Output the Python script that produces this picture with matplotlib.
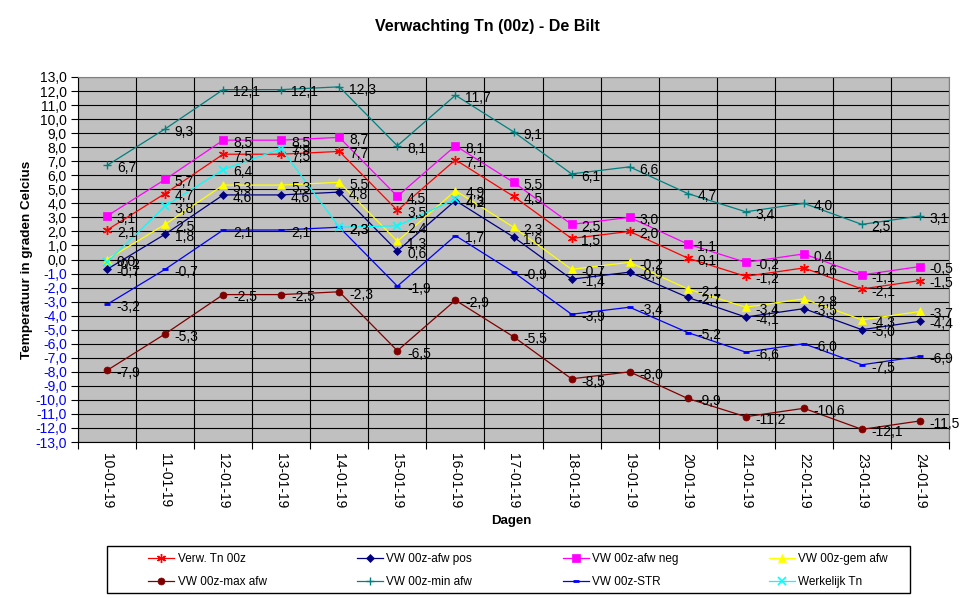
import matplotlib
matplotlib.use("Agg")
import matplotlib.pyplot as plt
from matplotlib.patches import Rectangle
from matplotlib.ticker import FixedLocator, NullFormatter, FixedFormatter

plt.rcParams["font.family"] = ["Liberation Sans", "DejaVu Sans"]

# data
dagen = ["10-01-19", "11-01-19", "12-01-19", "13-01-19", "14-01-19", "15-01-19", "16-01-19",
         "17-01-19", "18-01-19", "19-01-19", "20-01-19", "21-01-19", "22-01-19", "23-01-19", "24-01-19"]
verw_tn = [2.1, 4.7, 7.5, 7.5, 7.7, 3.5, 7.1, 4.5, 1.5, 2.0, 0.1, -1.2, -0.6, -2.1, -1.5]
afw_pos = [-0.7, 1.8, 4.6, 4.6, 4.8, 0.6, 4.2, 1.6, -1.4, -0.9, -2.7, -4.1, -3.5, -5.0, -4.4]
afw_neg = [3.1, 5.7, 8.5, 8.5, 8.7, 4.5, 8.1, 5.5, 2.5, 3.0, 1.1, -0.2, 0.4, -1.1, -0.5]
gem_afw = [0.0, 2.5, 5.3, 5.3, 5.5, 1.3, 4.9, 2.3, -0.7, -0.2, -2.1, -3.4, -2.8, -4.3, -3.7]
max_afw = [-7.9, -5.3, -2.5, -2.5, -2.3, -6.5, -2.9, -5.5, -8.5, -8.0, -9.9, -11.2, -10.6, -12.1, -11.5]
min_afw = [6.7, 9.3, 12.1, 12.1, 12.3, 8.1, 11.7, 9.1, 6.1, 6.6, 4.7, 3.4, 4.0, 2.5, 3.1]
str_vw = [-3.2, -0.7, 2.1, 2.1, 2.3, -1.9, 1.7, -0.9, -3.9, -3.4, -5.2, -6.6, -6.0, -7.5, -6.9]
werkelijk = [-0.2, 3.8, 6.4, 7.9, 2.3, 2.4, 4.3]

# naam, waarden, kleur, marker, markersize, markeredgewidth
series = [
    ("Verw. Tn 00z", verw_tn, "#FF0000", (6, 2, 0), 6.5, 1.0),
    ("VW 00z-afw pos", afw_pos, "#000080", "D", 4.2, 0.5),
    ("VW 00z-afw neg", afw_neg, "#FF00FF", "s", 5.2, 0.5),
    ("VW 00z-gem afw", gem_afw, "#FFFF00", "^", 5.5, 0.5),
    ("VW 00z-max afw", max_afw, "#800000", "o", 5.0, 0.5),
    ("VW 00z-min afw", min_afw, "#008080", "+", 6.0, 1.0),
    ("VW 00z-STR", str_vw, "#0000FF", "_", 4.0, 2.0),
    ("Werkelijk Tn", werkelijk, "#00FFFF", "x", 5.5, 1.2),
]

fig = plt.figure(figsize=(9.76, 5.98), dpi=100)
ax = fig.add_axes([78 / 976, 156 / 598, 871 / 976, 365 / 598])
ax.set_facecolor("#C0C0C0")

handles = []
for naam, vals, kleur, mk, ms, mew in series:
    xs = list(range(len(vals)))
    h, = ax.plot(xs, vals, color=kleur, lw=0.9, marker=mk, ms=ms, mew=mew,
                 label=naam, zorder=3)
    handles.append(h)
    for x, v in zip(xs, vals):
        ax.annotate(("%.1f" % v).replace(".", ","), xy=(x, v), xytext=(7, -2),
                    textcoords="offset points", fontsize=10, va="center", ha="left",
                    color="black", zorder=4)

ax.set_xlim(-0.5, len(dagen) - 0.5)
ax.set_ylim(-13, 13)

# grid: horizontale lijnen op elke graad, verticale lijnen tussen dagen
yt = list(range(-13, 14))
ax.yaxis.set_major_locator(FixedLocator(yt))
ax.set_yticklabels([("%.1f" % v).replace(".", ",") for v in yt], fontsize=10)
for lbl, v in zip(ax.get_yticklabels(), yt):
    if v < 0:
        lbl.set_color("#0000FF")
ax.xaxis.set_major_locator(FixedLocator([i - 0.5 for i in range(len(dagen) + 1)]))
ax.xaxis.set_major_formatter(NullFormatter())
ax.xaxis.set_minor_locator(FixedLocator(list(range(len(dagen)))))
ax.xaxis.set_minor_formatter(FixedFormatter(dagen))
ax.tick_params(axis="x", which="minor", length=0, labelsize=10, labelrotation=270, pad=8)
ax.tick_params(axis="x", which="major", length=5, direction="out", color="black")
ax.tick_params(axis="y", length=5, direction="out", pad=3)
ax.grid(True, which="major", color="black", lw=0.8, zorder=1)
ax.set_axisbelow(True)
for s in ("top", "right"):
    ax.spines[s].set_color("#808080")
for s in ("left", "bottom"):
    ax.spines[s].set_color("black")

fig.text(487 / 976, 1 - 26 / 598, "Verwachting Tn (00z) - De Bilt", ha="center", va="center",
         fontsize=11.5, fontweight="bold")
fig.text(511 / 976, 1 - 521 / 598, "Dagen", ha="center", va="center", fontsize=9.5, fontweight="bold")
fig.text(27 / 976, 1 - 260 / 598, "Temperatuur in graden Celcius", ha="center", va="center",
         rotation=90, fontsize=9.7, fontweight="bold")

# legenda: rij voor rij zoals in Excel
fig.patches.append(Rectangle((107 / 976, 1 - 593 / 598), 803 / 976, 47 / 598,
                             transform=fig.transFigure, facecolor="white",
                             edgecolor="black", lw=1.0, zorder=0))
order = [0, 4, 1, 5, 2, 6, 3, 7]
leg = fig.legend([handles[i] for i in order], [series[i][0] for i in order], ncol=4,
                 loc="lower left", bbox_to_anchor=(148 / 976, 10 / 598, 740 / 976, 42 / 598),
                 mode="expand", fontsize=8.5, frameon=False,
                 handlelength=2.2, borderpad=0.0, labelspacing=0.95, handletextpad=0.3,
                 borderaxespad=0)

fig.savefig("out.png", dpi=100)
